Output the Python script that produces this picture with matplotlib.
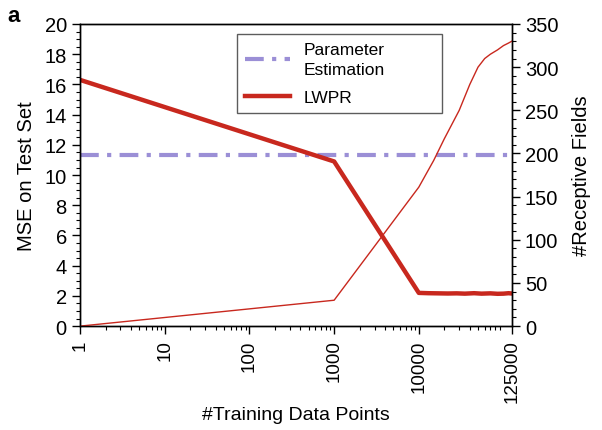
import matplotlib
matplotlib.use("Agg")
import matplotlib.pyplot as plt
from matplotlib.ticker import MultipleLocator, FixedLocator, NullFormatter, LogLocator
import numpy as np

plt.rcParams['font.family'] = ['Liberation Sans', 'DejaVu Sans']

# MSE on test set (left axis)
mse_x = [1, 1000, 10000, 13000, 17000, 22000, 28000, 35000, 45000, 55000, 70000, 85000, 100000, 115000, 125000]
mse_y = [16.3, 10.9, 2.2, 2.18, 2.17, 2.16, 2.17, 2.15, 2.18, 2.15, 2.17, 2.14, 2.15, 2.18, 2.16]

# number of receptive fields (right axis)
rf_x = [1, 1000, 10000, 15000, 20000, 30000, 40000, 50000, 60000, 70000, 85000, 100000, 115000, 125000]
rf_y = [0, 30, 161, 192, 217, 250, 280, 300, 310, 315, 320, 325, 328, 330]

param_est = 11.3

xticks = [1, 10, 100, 1000, 10000, 125000]
xticklabels = ['1', '10', '100', '1000', '10000', '125000']

red = '#c8281e'
purple = '#9b8fd6'
fs = 14.5

fig = plt.figure(figsize=(6.02, 4.31), dpi=100)
ax = fig.add_axes([0.133, 0.241, 0.717, 0.701])
ax2 = ax.twinx()

ax.axhline(param_est, color=purple, lw=3, ls=(0, (4.5, 2, 1, 2)), label='Parameter\nEstimation')
ax.plot(mse_x, mse_y, color=red, lw=3.2, label='LWPR', solid_joinstyle='round')
ax2.plot(rf_x, rf_y, color=red, lw=1)

ax.set_xscale('log')
ax.set_xlim(1, 125000)
ax.set_ylim(0, 20)
ax2.set_ylim(0, 350)

ax.xaxis.set_major_locator(FixedLocator(xticks))
ax.set_xticklabels(xticklabels, rotation=90, fontsize=13.5)
ax.xaxis.set_minor_locator(LogLocator(base=10, subs=np.arange(2, 10), numticks=20))
ax.xaxis.set_minor_formatter(NullFormatter())

ax.yaxis.set_major_locator(MultipleLocator(2))
ax.yaxis.set_minor_locator(MultipleLocator(0.5))
ax2.yaxis.set_major_locator(MultipleLocator(50))
ax2.yaxis.set_minor_locator(MultipleLocator(10))

for a in (ax, ax2):
    a.tick_params(which='major', length=6, width=1, labelsize=fs, direction='out')
    a.tick_params(which='minor', length=3, width=0.8, direction='out')
    for s in a.spines.values():
        s.set_linewidth(1)
ax.tick_params(axis='x', labelsize=13.5)

ax.set_xlabel('#Training Data Points', fontsize=14, labelpad=3)
ax.set_ylabel('MSE on Test Set', fontsize=fs, labelpad=6)
ax2.set_ylabel('#Receptive Fields', fontsize=fs, labelpad=10)

leg = ax.legend(loc='upper left', bbox_to_anchor=(0.363, 0.709, 0.475, 0.258),
                mode='expand', borderaxespad=0, fontsize=12.5,
                frameon=True, fancybox=False, edgecolor='#333333',
                handlelength=2.6, handletextpad=0.8, borderpad=0.45, labelspacing=0.75)
leg.get_frame().set_linewidth(1)
for t in leg.get_texts():
    t.set_linespacing(1.45)

fig.text(0.012, 0.948, 'a', fontsize=16, fontweight='bold')

fig.savefig('out.png', dpi=100)
